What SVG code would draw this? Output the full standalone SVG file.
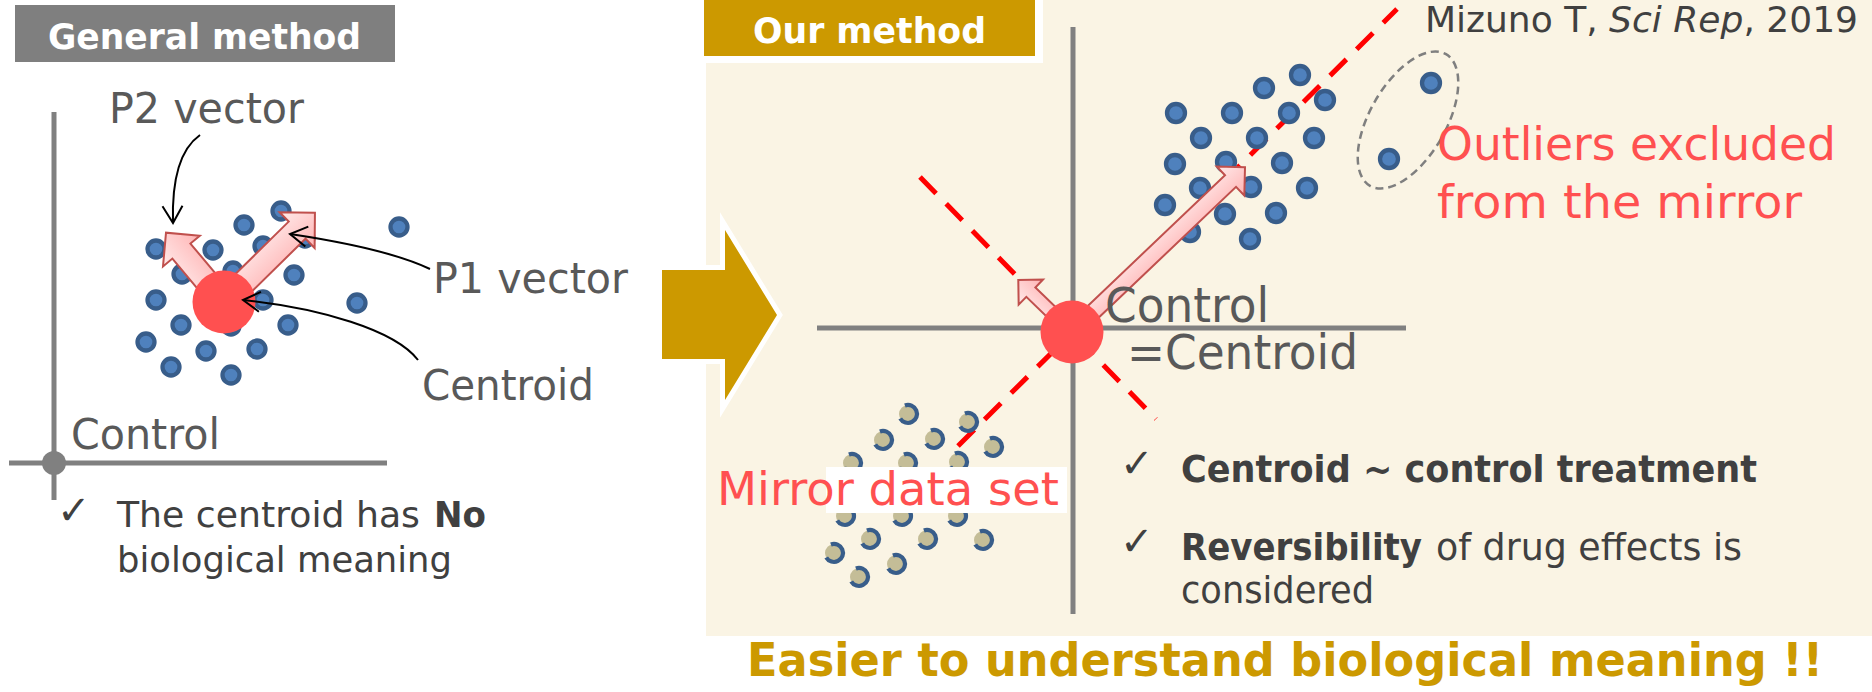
<svg xmlns="http://www.w3.org/2000/svg" xmlns:xlink="http://www.w3.org/1999/xlink" width="1872" height="692" viewBox="0 0 1872 692">
  <defs>
    <style>
      .ax { stroke: #808080; stroke-width: 5; fill: none; }
      .dot { fill: #4F81BD; stroke: #385D8A; stroke-width: 4.3; }
      .mir { fill: none; stroke: #FF0000; stroke-width: 5; stroke-dasharray: 23 14.5; }
      .vec { fill: url(#pink); stroke: #C0504D; stroke-width: 2; stroke-linejoin: miter; }
      .cen { fill: #FF5050; }
      .lead { fill: none; stroke: #000000; stroke-width: 2; marker-end: url(#open); }
      .t { font-family: "DejaVu Sans", Verdana, sans-serif; }
      .gry { fill: #595959; }
      .dk { fill: #404040; }
      .redt { fill: #FF5050; }
      .b { font-weight: bold; }
      .tick { font-family: "DejaVu Sans", sans-serif; font-size: 40px; fill: #404040; }
    </style>
    <linearGradient id="pink" x1="0" y1="0" x2="0" y2="1">
      <stop offset="0" stop-color="#FFEAEA"/>
      <stop offset="1" stop-color="#FFB4B4"/>
    </linearGradient>
    <marker id="open" markerUnits="userSpaceOnUse" viewBox="-20 -12 24 24" markerWidth="24" markerHeight="24" refX="0" refY="0" orient="auto" overflow="visible">
      <path d="M-17,-10 L0,0 L-17,10" fill="none" stroke="#000000" stroke-width="2"/>
    </marker>
    <!-- mirrored sample: tan core with an open blue ring -->
    <g id="md">
      <circle r="9" fill="#C4BD97"/>
      <path d="M-3.1,-8.5 A9,9 0 1 1 -7.8,4.5" fill="none" stroke="#385D8A" stroke-width="4.2"/>
    </g>
  </defs>

  <rect width="1872" height="692" fill="#FFFFFF"/>

  <!-- ===== Left panel: general method ===== -->
  <g id="general-title">
    <rect x="15" y="5" width="380" height="57" fill="#7F7F7F"/>
    <text class="t b" x="48" y="49" font-size="36" fill="#FFFFFF" textLength="313" lengthAdjust="spacingAndGlyphs">General method</text>
  </g>

  <g id="general-axes">
    <line class="ax" x1="54" y1="112" x2="54" y2="500"/>
    <line class="ax" x1="9" y1="463" x2="387" y2="463"/>
    <circle cx="54" cy="463" r="12" fill="#808080"/>
    <text class="t gry" x="71" y="449" font-size="43" textLength="149" lengthAdjust="spacingAndGlyphs">Control</text>
  </g>

  <g id="general-samples">
    <circle class="dot" cx="156" cy="249" r="8.5"/>
    <circle class="dot" cx="244" cy="225" r="8.5"/>
    <circle class="dot" cx="281" cy="211" r="8.5"/>
    <circle class="dot" cx="213" cy="250" r="8.5"/>
    <circle class="dot" cx="182" cy="274" r="8.5"/>
    <circle class="dot" cx="294" cy="275" r="8.5"/>
    <circle class="dot" cx="399" cy="227" r="8.5"/>
    <circle class="dot" cx="156" cy="300" r="8.5"/>
    <circle class="dot" cx="263" cy="300" r="8.5"/>
    <circle class="dot" cx="357" cy="303" r="8.5"/>
    <circle class="dot" cx="181" cy="325" r="8.5"/>
    <circle class="dot" cx="288" cy="325" r="8.5"/>
    <circle class="dot" cx="146" cy="342" r="8.5"/>
    <circle class="dot" cx="206" cy="351" r="8.5"/>
    <circle class="dot" cx="257" cy="349" r="8.5"/>
    <circle class="dot" cx="171" cy="367" r="8.5"/>
    <circle class="dot" cx="231" cy="375" r="8.5"/>
    <circle class="dot" cx="305" cy="238" r="8.5"/>
    <circle class="dot" cx="233" cy="271" r="8.5"/>
    <circle class="dot" cx="231" cy="326" r="8.5"/>
    <circle class="dot" cx="263" cy="246" r="8.5"/>
  </g>

  <g id="general-vectors">
    <polygon class="vec" transform="translate(224,302) rotate(-129.9)" points="0,-11.75 66.4,-11.75 66.4,-24 90.4,0 66.4,24 66.4,11.75 0,11.75"/>
    <polygon class="vec" transform="translate(224,302) rotate(-44.5)" points="0,-12 102.5,-12 102.5,-25 127.5,0 102.5,25 102.5,12 0,12"/>
    <circle class="cen" cx="224" cy="302" r="31.5"/>
  </g>

  <g id="general-labels">
    <text class="t gry" x="109" y="123" font-size="43" textLength="195" lengthAdjust="spacingAndGlyphs">P2 vector</text>
    <text class="t gry" x="433" y="293" font-size="43" textLength="195" lengthAdjust="spacingAndGlyphs">P1 vector</text>
    <text class="t gry" x="422" y="400" font-size="43" textLength="172" lengthAdjust="spacingAndGlyphs">Centroid</text>
  </g>

  <g id="general-note">
    <text class="tick" x="57" y="524">✓</text>
    <text class="t dk" x="117" y="527" font-size="36" textLength="303" lengthAdjust="spacingAndGlyphs">The centroid has</text>
    <text class="t dk b" x="434" y="527" font-size="36" textLength="52" lengthAdjust="spacingAndGlyphs">No</text>
    <text class="t dk" x="117" y="572" font-size="36" textLength="335" lengthAdjust="spacingAndGlyphs">biological meaning</text>
  </g>

  <!-- ===== Right panel: our method ===== -->
  <rect id="our-panel" x="706" y="0" width="1166" height="636" fill="#FAF4E4"/>

  <g id="our-title">
    <rect x="697" y="0" width="346" height="63" fill="#FFFFFF"/>
    <rect x="704" y="0" width="331" height="56" fill="#CC9900"/>
    <text class="t b" x="753" y="43" font-size="36" fill="#FFFFFF" textLength="233" lengthAdjust="spacingAndGlyphs">Our method</text>
  </g>

  <g id="transition-arrow">
    <polygon points="662,270 725,270 725,230 777,315 725,400 725,359 662,359" fill="#CC9900" stroke="#FFFFFF" stroke-width="10" stroke-miterlimit="6" paint-order="stroke"/>
  </g>

  <g id="our-axes">
    <line class="ax" x1="1073" y1="27" x2="1073" y2="614"/>
    <line class="ax" x1="817" y1="328" x2="1406" y2="328"/>
  </g>

  <g id="mirror-lines">
    <line class="mir" x1="958" y1="446" x2="1397" y2="9"/>
    <line class="mir" x1="920" y1="177" x2="1156" y2="419"/>
  </g>

  <g id="our-samples">
    <circle class="dot" cx="1300" cy="75" r="9"/>
    <circle class="dot" cx="1264" cy="88" r="9"/>
    <circle class="dot" cx="1325" cy="100" r="9"/>
    <circle class="dot" cx="1176" cy="113" r="9"/>
    <circle class="dot" cx="1232" cy="113" r="9"/>
    <circle class="dot" cx="1289" cy="113" r="9"/>
    <circle class="dot" cx="1201" cy="138" r="9"/>
    <circle class="dot" cx="1257" cy="138" r="9"/>
    <circle class="dot" cx="1314" cy="138" r="9"/>
    <circle class="dot" cx="1175" cy="164" r="9"/>
    <circle class="dot" cx="1226" cy="162" r="9"/>
    <circle class="dot" cx="1282" cy="163" r="9"/>
    <circle class="dot" cx="1200" cy="188" r="9"/>
    <circle class="dot" cx="1251" cy="187" r="9"/>
    <circle class="dot" cx="1307" cy="188" r="9"/>
    <circle class="dot" cx="1165" cy="205" r="9"/>
    <circle class="dot" cx="1225" cy="214" r="9"/>
    <circle class="dot" cx="1276" cy="213" r="9"/>
    <circle class="dot" cx="1190" cy="232" r="9"/>
    <circle class="dot" cx="1250" cy="239" r="9"/>
  </g>

  <g id="outliers">
    <circle class="dot" cx="1431" cy="83" r="9"/>
    <circle class="dot" cx="1389" cy="159" r="9"/>
    <ellipse cx="1408" cy="120" rx="38" ry="76" transform="rotate(30 1408 120)" fill="none" stroke="#7F7F7F" stroke-width="2.5" stroke-dasharray="8 5"/>
  </g>

  <g id="mirror-samples">
    <use xlink:href="#md" x="908" y="414"/>
    <use xlink:href="#md" x="883" y="440"/>
    <use xlink:href="#md" x="934" y="439"/>
    <use xlink:href="#md" x="968" y="422"/>
    <use xlink:href="#md" x="993" y="447"/>
    <use xlink:href="#md" x="852" y="463"/>
    <use xlink:href="#md" x="907" y="463"/>
    <use xlink:href="#md" x="958" y="462"/>
    <use xlink:href="#md" x="845" y="516"/>
    <use xlink:href="#md" x="902" y="516"/>
    <use xlink:href="#md" x="957" y="516"/>
    <use xlink:href="#md" x="870" y="539"/>
    <use xlink:href="#md" x="927" y="539"/>
    <use xlink:href="#md" x="983" y="540"/>
    <use xlink:href="#md" x="834" y="553"/>
    <use xlink:href="#md" x="896" y="564"/>
    <use xlink:href="#md" x="859" y="577"/>
  </g>

  <g id="our-vectors">
    <polygon class="vec" transform="translate(1072,332) rotate(-135.9)" points="0,-6.5 57.3,-6.5 57.3,-17.5 74.8,0 57.3,17.5 57.3,6.5 0,6.5"/>
    <polygon class="vec" transform="translate(1072,332) rotate(-43.6)" points="0,-8 218.9,-8 218.9,-20 238.9,0 218.9,20 218.9,8 0,8"/>
    <circle class="cen" cx="1072" cy="332" r="31.5"/>
  </g>

  <g id="our-labels">
    <text class="t gry" x="1105" y="322" font-size="48" textLength="164" lengthAdjust="spacingAndGlyphs">Control</text>
    <text class="t gry" x="1127" y="369" font-size="48" textLength="231" lengthAdjust="spacingAndGlyphs">=Centroid</text>
    <text class="t dk" x="1425" y="32" font-size="35" textLength="433" lengthAdjust="spacingAndGlyphs">Mizuno T, <tspan font-style="italic">Sci Rep</tspan>, 2019</text>
    <text class="t redt" x="1437" y="160" font-size="47" textLength="399" lengthAdjust="spacingAndGlyphs">Outliers excluded</text>
    <text class="t redt" x="1437" y="218" font-size="47" textLength="365" lengthAdjust="spacingAndGlyphs">from the mirror</text>
  </g>

  <g id="mirror-label">
    <rect x="826" y="467" width="241" height="46" fill="#FFFFFF"/>
    <text class="t redt" x="717" y="505" font-size="47" textLength="342" lengthAdjust="spacingAndGlyphs">Mirror data set</text>
  </g>

  <g id="our-notes">
    <text class="tick" x="1120" y="477">✓</text>
    <text class="t dk b" x="1181" y="482" font-size="38" textLength="576" lengthAdjust="spacingAndGlyphs">Centroid ~ control treatment</text>
    <text class="tick" x="1120" y="555">✓</text>
    <text class="t dk b" x="1181" y="560" font-size="38" textLength="241" lengthAdjust="spacingAndGlyphs">Reversibility</text>
    <text class="t dk" x="1436" y="560" font-size="38" textLength="306" lengthAdjust="spacingAndGlyphs">of drug effects is</text>
    <text class="t dk" x="1181" y="603" font-size="38" textLength="193" lengthAdjust="spacingAndGlyphs">considered</text>
  </g>

  <g id="conclusion">
    <text class="t b" x="747" y="676" font-size="46" fill="#CC9900" textLength="1076" lengthAdjust="spacingAndGlyphs">Easier to understand biological meaning !!</text>
  </g>

  <!-- leader lines from labels to the vectors and centroid -->
  <g id="connectors">
    <path class="lead" d="M200,135 C176,152 172,190 173,223"/>
    <path class="lead" d="M430,269 C390,250 330,240 290,234"/>
    <path class="lead" d="M418,360 C395,330 320,308 243,300"/>
  </g>
</svg>
